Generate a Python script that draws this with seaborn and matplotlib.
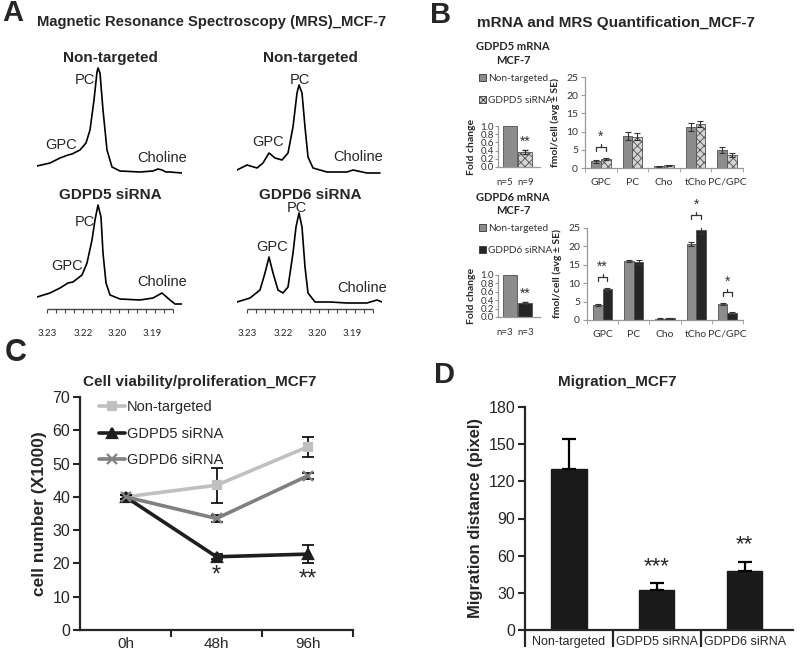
import numpy as np
import pandas as pd
import matplotlib
matplotlib.use("Agg")
import matplotlib.pyplot as plt
from matplotlib.patches import Patch
from matplotlib.ticker import FixedLocator, MultipleLocator, FormatStrFormatter
import seaborn as sns

# ---------------- A: MRS spectra (position, intensity)
nt5_x = [0, 13, 23, 31, 35, 43, 49, 53, 57, 60, 61, 63, 66, 70, 75, 83, 103, 116, 121, 125, 129, 133, 145]
nt5_y = [7, 10, 15, 18, 19, 23, 30, 43, 73, 101, 105, 100, 63, 23, 6, 2, 1, 2, 4, 3, 1, 1, 0]
nt6_x = [0, 4, 10, 20, 26, 32, 38, 45, 51, 56, 60, 62, 65, 68, 71, 76, 90, 110, 116, 130, 143]
nt6_y = [4, 6, 9, 6, 11, 21, 16, 14, 21, 47, 81, 89, 81, 47, 17, 6, 2, 2, 4, 1, 1]
si5_x = [0, 13, 23, 31, 36, 45, 50, 55, 58, 61, 64, 66, 69, 73, 83, 103, 116, 125, 133, 138, 145]
si5_y = [8, 12, 17, 22, 23, 30, 42, 65, 85, 100, 88, 52, 22, 10, 6, 5, 7, 12, 5, 1, 1]
si6_x = [0, 13, 23, 28, 32, 36, 41, 46, 51, 56, 59, 62, 65, 68, 71, 78, 93, 110, 130, 140, 145]
si6_y = [3, 7, 15, 32, 48, 32, 15, 12, 18, 52, 78, 92, 78, 38, 12, 3, 3, 2, 2, 5, 3]
ppm_pos = [10, 46, 80, 115]
ppm_labels = ["3.23", "3.22", "3.20", "3.19"]
ruler_ticks = list(range(10, 137, 9))

# ---------------- B: mRNA fold change and MRS quantification
metabolites = ["GPC", "PC", "Cho", "tCho", "PC/GPC"]
d5_nt = [1.8, 8.8, 0.5, 11.4, 5.0]
d5_nt_err = [0.3, 1.2, 0.1, 1.1, 0.9]
d5_si = [2.5, 8.6, 0.7, 12.2, 3.6]
d5_si_err = [0.3, 1.0, 0.1, 0.8, 0.6]
d6_nt = [4.0, 16.1, 0.4, 20.6, 4.3]
d6_nt_err = [0.3, 0.3, 0.05, 0.6, 0.3]
d6_si = [8.3, 15.8, 0.5, 24.5, 1.9]
d6_si_err = [0.3, 0.5, 0.05, 1.0, 0.2]
d5_sig = [(0, "*")]
d6_sig = [(0, "**"), (3, "*"), (4, "*")]
d5_fold = [1.0, 0.37]
d5_fold_err = [0.0, 0.05]
d5_n = ["n=5", "n=9"]
d6_fold = [1.0, 0.33]
d6_fold_err = [0.0, 0.02]
d6_n = ["n=3", "n=3"]

# ---------------- C: cell viability
times = ["0h", "48h", "96h"]
nt_cells = [40, 43.5, 55]
nt_cells_err = [0.5, 5.2, 3.0]
d5_cells = [40, 22, 22.8]
d5_cells_err = [0.5, 0.8, 2.7]
d6_cells = [40, 33.5, 46.3]
d6_cells_err = [0.5, 1.0, 1.0]
cells_sig = [(1, "*"), (2, "**")]

# ---------------- D: migration
mig_groups = ["Non-targeted", "GDPD5 siRNA", "GDPD6 siRNA"]
mig_dist = [130, 32, 48]
mig_err = [24, 6, 7]
mig_sig = ["", "***", "**"]

sns.set_style("ticks")
plt.rcParams["font.family"] = ["Liberation Sans", "DejaVu Sans"]
plt.rcParams["hatch.linewidth"] = 0.6
CAL = ["Lato", "DejaVu Sans"]

W, H = 800, 655
fig = plt.figure(figsize=(W / 100, H / 100), dpi=100)


def px_axes(left, top, right, bottom):
    return fig.add_axes([left / W, 1 - bottom / H, (right - left) / W, (bottom - top) / H])


def ftext(x, y, s, **kw):
    kw.setdefault("ha", "center")
    kw.setdefault("va", "center")
    fig.text(x / W, 1 - y / H, s, **kw)


# ================= A =================
ftext(13, 13, "A", fontsize=21, weight="bold")
ftext(37, 22, "Magnetic Resonance Spectroscopy (MRS)_MCF-7", fontsize=10.6, weight="bold", ha="left")

spectra = [
    (37, 178, nt5_x, nt5_y, "Non-targeted", 58, [(48, 93), (24, 28), (125, 15)], False),
    (237, 179, nt6_x, nt6_y, "Non-targeted", 58, [(63, 94), (31, 32), (121, 17)], False),
    (37, 310, si5_x, si5_y, "GDPD5 siRNA", 195, [(48, 83), (30, 39), (125, 23)], True),
    (237, 310, si6_x, si6_y, "GDPD6 siRNA", 195, [(60, 97), (35, 58), (125, 17)], True),
]
for left, bottom, sx, sy, title, ty, labpos, ruler in spectra:
    ax = px_axes(left, bottom - 120, left + 145, bottom)
    sns.lineplot(x=sx, y=sy, ax=ax, color="black", linewidth=1.2, estimator=None, sort=False)
    ax.set_xlim(0, 145)
    ax.set_ylim(-5, 115)
    ax.set_xlabel("")
    ax.set_ylabel("")
    sns.despine(ax=ax, left=True, bottom=True)
    ax.set_yticks([])
    for (lx, ly), name in zip(labpos, ["PC", "GPC", "Choline"]):
        ax.text(lx, ly, name, fontsize=10.5, ha="center", va="center")
    ftext(left + 73, ty, title, fontsize=11, weight="bold")
    if ruler:
        # chemical-shift ruler under the bottom spectra
        ax.hlines(-4, ruler_ticks[0], ruler_ticks[-1], color="#444444", lw=1.0, clip_on=False)
        ax.vlines(ruler_ticks, -4, -7.5, color="#444444", lw=0.8, clip_on=False)
        ax.set_xticks(ppm_pos)
        ax.set_xticklabels(ppm_labels, fontsize=7, family=CAL)
        ax.tick_params(axis="x", length=0, pad=14)
    else:
        ax.set_xticks([])

# ================= B =================
ftext(441, 15, "B", fontsize=21, weight="bold")
ftext(616, 23, "mRNA and MRS Quantification_MCF-7", fontsize=11, weight="bold")

NT_C = "#8c8c8c"
GREY_AX = "#9a9a9a"
SI5_C = "#d4d4d4"
SI6_C = "#262626"


def style_b(ax):
    for s in ["top", "right"]:
        ax.spines[s].set_visible(False)
    for s in ["left", "bottom"]:
        ax.spines[s].set_color(GREY_AX)
        ax.spines[s].set_linewidth(0.9)
    ax.tick_params(colors=GREY_AX, labelcolor="#333333", width=0.8)
    ax.set_xlabel("")


def quant(ax, nt, nt_err, si, si_err, si_label, si_color, hatch, sig):
    df = pd.DataFrame({
        "metabolite": metabolites * 2,
        "group": ["Non-targeted"] * len(nt) + [si_label] * len(si),
        "value": nt + si,
    })
    sns.barplot(df, x="metabolite", y="value", hue="group", palette=[NT_C, si_color],
                width=0.62, saturation=1, edgecolor="#505050", linewidth=0.6,
                errorbar=None, legend=False, ax=ax)
    tops = []
    for cont, err in zip(ax.containers, [nt_err, si_err]):
        xs = [b.get_x() + b.get_width() / 2 for b in cont]
        ys = [b.get_height() for b in cont]
        ax.errorbar(xs, ys, yerr=err, fmt="none", ecolor="#333333", elinewidth=0.8, capsize=2, capthick=0.8)
        tops.append((xs, [y + e for y, e in zip(ys, err)]))
    if hatch:
        for b in ax.containers[1]:
            b.set_hatch(hatch)
    for i, stars in sig:
        x1, x2 = tops[0][0][i], tops[1][0][i]
        yb = max(tops[0][1][i], tops[1][1][i]) + 3
        ax.plot([x1, x1, x2, x2], [yb - 1, yb, yb, yb - 1], color="#333333", lw=0.9, clip_on=False)
        ax.plot([(x1 + x2) / 2] * 2, [yb, yb + 0.9], color="#333333", lw=0.9, clip_on=False)
        ax.text((x1 + x2) / 2, yb + 0.9, stars, ha="center", va="bottom", fontsize=10, color="#333333")
    ax.set_xlim(-0.5, len(metabolites) - 0.5)
    ax.set_ylim(0, 25)
    ax.yaxis.set_major_locator(MultipleLocator(5))
    ax.set_ylabel("fmol/cell (avg ± SE)", fontsize=7.5, family=CAL, weight="bold", labelpad=4)
    ax.xaxis.set_minor_locator(FixedLocator(np.arange(-0.5, len(metabolites), 1.0)))
    style_b(ax)
    ax.tick_params(axis="x", which="major", length=0, pad=7, labelsize=7.5)
    ax.tick_params(axis="x", which="minor", length=3, color=GREY_AX)
    ax.tick_params(axis="y", length=3, labelsize=7.5, pad=2)
    for t in ax.get_xticklabels() + ax.get_yticklabels():
        t.set_family(CAL)


def fold(ax, vals, errs, nlabels, si_label, si_color, hatch):
    groups = ["Non-targeted", si_label]
    sns.barplot(x=groups, y=vals, hue=groups, palette=[NT_C, si_color], width=0.9,
                saturation=1, edgecolor="#505050", linewidth=0.6, legend=False, ax=ax)
    ax.errorbar(groups[1:], vals[1:], yerr=errs[1:], fmt="none", ecolor="#333333", elinewidth=0.8, capsize=2)
    ax.text(groups[1], vals[1] + errs[1] + 0.03, "**", ha="center", va="bottom", fontsize=10, color="#333333")
    if hatch:
        ax.patches[1].set_hatch(hatch)
    ax.set_xlim(-0.8, 2.0)
    ax.set_ylim(0, 1.0)
    ax.yaxis.set_major_locator(MultipleLocator(0.2))
    ax.yaxis.set_major_formatter(FormatStrFormatter("%.1f"))
    ax.set_xticks([-0.35, 1.05])
    ax.set_xticklabels(nlabels)
    ax.set_ylabel("Fold change", fontsize=7.5, family=CAL, weight="bold", labelpad=3)
    style_b(ax)
    ax.tick_params(axis="x", length=0, pad=8, labelsize=7)
    ax.tick_params(axis="y", length=2, labelsize=7, pad=1)
    for t in ax.get_xticklabels() + ax.get_yticklabels():
        t.set_family(CAL)


for (lab_y, leg_y, fold_box, quant_box, nt, nte, si, sie, sig, fv, fe, nl, si_label, si_c, hatch) in [
    (47, 74, (498, 126, 540, 167), (585, 77, 743, 168), d5_nt, d5_nt_err, d5_si, d5_si_err, d5_sig,
     d5_fold, d5_fold_err, d5_n, "GDPD5 siRNA", SI5_C, "xxxx"),
    (197, 224, (498, 275, 540, 317), (587, 228, 743, 320), d6_nt, d6_nt_err, d6_si, d6_si_err, d6_sig,
     d6_fold, d6_fold_err, d6_n, "GDPD6 siRNA", SI6_C, None),
]:
    ftext(513, lab_y, si_label.split()[0] + " mRNA", fontsize=8, weight="bold", family=CAL)
    ftext(513, lab_y + 14, "MCF-7", fontsize=8, weight="bold", family=CAL)
    handles = [Patch(facecolor=NT_C, edgecolor="#333333", linewidth=0.6, label="Non-targeted"),
               Patch(facecolor=si_c, edgecolor="#333333", linewidth=0.6, hatch=hatch, label=si_label)]
    fig.legend(handles=handles, loc="upper left", bbox_to_anchor=(479 / W, 1 - leg_y / H),
               frameon=False, prop={"family": CAL, "size": 7.2},
               handlelength=0.7, handleheight=0.7, handletextpad=0.2, labelspacing=1.3,
               borderaxespad=0, borderpad=0, labelcolor="#333333")
    fold(px_axes(*fold_box), fv, fe, nl, si_label, si_c, hatch)
    quant(px_axes(*quant_box), nt, nte, si, sie, si_label, si_c, hatch, sig)

# ================= C =================
ftext(16, 353, "C", fontsize=22, weight="bold")
ftext(200, 382, "Cell viability/proliferation_MCF7", fontsize=11, weight="bold")
axc = px_axes(80, 397, 353, 630)
series_c = [
    ("Non-targeted", nt_cells, nt_cells_err, "#c0c0c0", "s", 6),
    ("GDPD5 siRNA", d5_cells, d5_cells_err, "#1e1e1e", "^", 7),
    ("GDPD6 siRNA", d6_cells, d6_cells_err, "#808080", "x", 7),
]
for name, vals, errs, col, mk, ms in series_c:
    axc.errorbar(times, vals, yerr=errs, fmt="none", ecolor="black", elinewidth=1.2, capsize=4, capthick=1.2)
    sns.lineplot(x=times, y=vals, ax=axc, color=col, linewidth=2.6, marker=mk, markersize=ms,
                 markeredgecolor=col, markeredgewidth=1.6, label=name, sort=False)
for i, stars in cells_sig:
    axc.text(times[i], d5_cells[i] - d5_cells_err[i] - 1.5, stars, ha="center", va="top", fontsize=17)
axc.set_xlim(-0.5, 2.5)
axc.set_ylim(0, 70)
axc.yaxis.set_major_locator(MultipleLocator(10))
axc.xaxis.set_minor_locator(FixedLocator([0.5, 1.5, 2.5]))
axc.tick_params(axis="x", which="major", length=0, pad=5, labelsize=11)
axc.tick_params(axis="x", which="minor", length=5, width=1.5)
axc.tick_params(axis="y", length=5, width=1.5, labelsize=11.5, pad=2)
sns.despine(ax=axc)
for s in ["left", "bottom"]:
    axc.spines[s].set_linewidth(1.6)
axc.set_ylabel("cell number (X1000)", fontsize=12.5, weight="bold", labelpad=4)
axc.set_xlabel("")
axc.legend(loc="upper left", bbox_to_anchor=(0.07, 0.985), frameon=False, fontsize=10.5,
           handlelength=1.8, handletextpad=0.1, labelspacing=0.85, borderaxespad=0, borderpad=0)

# ================= D =================
ftext(444, 375, "D", fontsize=21, weight="bold")
ftext(617, 382, "Migration_MCF7", fontsize=11, weight="bold")
axd = px_axes(525, 407, 793, 630)
sns.barplot(x=mig_groups, y=mig_dist, color="#1a1a1a", saturation=1, width=0.4,
            edgecolor="#1a1a1a", errorbar=None, ax=axd)
axd.errorbar(mig_groups, mig_dist, yerr=[[0] * len(mig_err), mig_err], fmt="none",
             ecolor="black", elinewidth=1.6, capsize=5, capthick=1.6)
for g, v, e, stars in zip(mig_groups, mig_dist, mig_err, mig_sig):
    axd.text(g, v + e + 5, stars, ha="center", va="bottom", fontsize=16)
axd.set_xlim(-0.5, 2.55)
axd.set_ylim(0, 180)
axd.yaxis.set_major_locator(MultipleLocator(30))
axd.xaxis.set_minor_locator(FixedLocator([-0.5, 0.5, 1.5]))
axd.tick_params(axis="x", which="major", length=0, pad=4, labelsize=9)
axd.tick_params(axis="x", which="minor", length=12, width=1.6)
axd.tick_params(axis="y", length=5, width=1.5, labelsize=11.5, pad=2)
sns.despine(ax=axd)
for s in ["left", "bottom"]:
    axd.spines[s].set_linewidth(1.6)
axd.set_ylabel("Migration distance (pixel)", fontsize=12, weight="bold", labelpad=4)
axd.set_xlabel("")

fig.savefig("out.png", dpi=100)
